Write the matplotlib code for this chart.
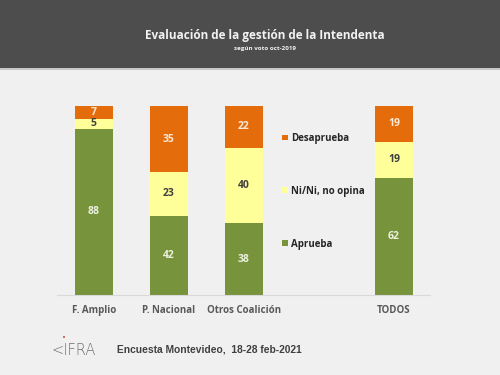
import matplotlib.pyplot as plt
import numpy as np

# data
categories = ['F. Amplio', 'P. Nacional', 'Otros Coalición', 'TODOS']
positions = [0, 1, 2, 4]
aprueba = [88, 42, 38, 62]
ni_ni = [5, 23, 40, 19]
desaprueba = [7, 35, 22, 19]

green = '#77933c'
yellow = '#ffff99'
orange = '#e46c0a'

fig = plt.figure(figsize=(5, 3.75), dpi=100)
fig.patch.set_facecolor('#f0f0f0')

# dark header band
fig.patches.append(plt.Rectangle((0, 0.818), 1, 0.182, transform=fig.transFigure,
                                 facecolor='#4d4d4d', edgecolor='none', zorder=0))
fig.patches.append(plt.Rectangle((0, 0.814), 1, 0.004, transform=fig.transFigure,
                                 facecolor='#c8c8c8', edgecolor='none', zorder=0))
fig.text(0.53, 0.905, 'Evaluación de la gestión de la Intendenta', color='#f2f2f2',
         ha='center', va='center', fontsize=8.5, fontweight='bold', family='Open Sans')
fig.text(0.53, 0.871, 'según voto oct-2019', color='#f2f2f2',
         ha='center', va='center', fontsize=4.5, fontweight='bold', family='Open Sans')

ax = fig.add_axes([0.114, 0.2133, 0.746, 0.504])
ax.set_facecolor('none')

x = np.array(positions)
w = 0.51
b1 = ax.bar(x, aprueba, w, color=green, label='Aprueba')
b2 = ax.bar(x, ni_ni, w, bottom=aprueba, color=yellow, label='Ni/Ni, no opina')
b3 = ax.bar(x, desaprueba, w, bottom=np.array(aprueba) + np.array(ni_ni),
            color=orange, label='Desaprueba')

for bars, vals, c in [(b1, aprueba, '#ebf1de'), (b2, ni_ni, '#404040'), (b3, desaprueba, '#fde9d9')]:
    for rect, v in zip(bars, vals):
        cy = rect.get_y() + rect.get_height() / 2
        ax.text(rect.get_x() + rect.get_width() / 2, cy, str(v), ha='center', va='center',
                color=c, fontsize=7.5, fontweight='bold', family='Open Sans')

ax.set_xlim(-0.49, 4.48)
ax.set_ylim(0, 100)
ax.set_xticks(positions)
ax.set_xticklabels(categories, fontsize=7, fontweight='bold', color='#595959', family='Open Sans')
ax.tick_params(axis='x', length=0, pad=7)
ax.set_yticks([])
for s in ['top', 'right', 'left']:
    ax.spines[s].set_visible(False)
ax.spines['bottom'].set_color('#d9d9d9')
ax.spines['bottom'].set_linewidth(0.8)

leg = ax.legend(handles=[b3, b2, b1], loc='center left', bbox_to_anchor=(0.555, 0.49),
                bbox_transform=fig.transFigure, frameon=False,
                labelspacing=4.3, handlelength=0.55, handleheight=0.55, handletextpad=0.35,
                borderpad=0, prop={'family': 'Open Sans', 'weight': 'bold', 'size': 7})
for t in leg.get_texts():
    t.set_color('#262626')

# footer with logo
fig.text(0.103, 0.066, '<IFRA', color='#707070', fontsize=10.5, ha='left', va='center',
         family='DejaVu Sans', fontweight='light')
fig.text(0.124, 0.1, '•', color='#c0504d', fontsize=5, ha='left', va='center')
fig.text(0.234, 0.069, 'Encuesta Montevideo,  18-28 feb-2021', color='#404040',
         fontsize=7.4, ha='left', va='center', fontweight='bold', family='Liberation Sans')

plt.savefig('out.png', dpi=100, facecolor=fig.get_facecolor())
